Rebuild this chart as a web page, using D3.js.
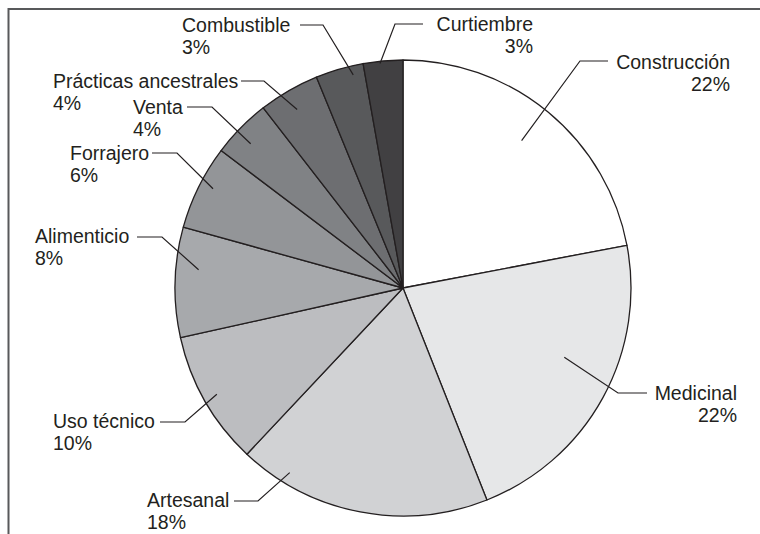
<!DOCTYPE html>
<html>
<head>
<meta charset="utf-8">
<script src="https://cdn.jsdelivr.net/npm/d3@7"></script>
<style>
  body { margin: 0; background: #fff; }
  svg { display: block; }
  text { font-family: "Liberation Sans", Arial, sans-serif; font-size: 19.5px; fill: #231f20; }
</style>
</head>
<body>
<svg id="chart" width="760" height="534"></svg>
<script>
// slices, clockwise from 12 o'clock
const categories = ["Construcción", "Medicinal", "Artesanal", "Uso técnico", "Alimenticio",
                    "Forrajero", "Venta", "Prácticas ancestrales", "Combustible", "Curtiembre"]
const shares = [22, 22, 18, 9.5, 7.8, 6, 4.2, 4.3, 3.4, 2.8]
const greys = ["#ffffff", "#e6e7e8", "#d1d2d4", "#bcbdc0", "#a7a9ac",
               "#939598", "#808285", "#6d6e71", "#58595b", "#414042"]

// label layout: t = where across the slice the leader starts, k = fraction of radius,
// elbow = bend of the leader, hx = end of the horizontal stub, tx/ty = text anchor
const leaders = [
  { t: .49, k: .83, elbow: [580, 61],  hx: 608, tx: 730, ty: 69,  anchor: "end" },
  { t: .43, k: .77, elbow: [618, 393], hx: 647, tx: 737, ty: 400, anchor: "end" },
  { t: .82, k: .95, elbow: [258, 501], hx: 234, tx: 147, ty: 507, anchor: "start" },
  { t: .50, k: .94, elbow: [185, 422], hx: 160, tx: 53,  ty: 428, anchor: "start" },
  { t: .63, k: .90, elbow: [162, 237], hx: 137, tx: 35,  ty: 243, anchor: "start" },
  { t: .56, k: .94, elbow: [177, 153], hx: 152, tx: 70,  ty: 160, anchor: "start" },
  { t: .42, k: .92, elbow: [212, 107], hx: 187, tx: 133, ty: 114, anchor: "start" },
  { t: .46, k: .91, elbow: [264, 81],  hx: 241, tx: 53,  ty: 88,  anchor: "start" },
  { t: .75, k: .96, elbow: [323, 25],  hx: 300, tx: 182, ty: 32,  anchor: "start" },
  { t: .42, k: .99, elbow: [395, 24],  hx: 423, tx: 533, ty: 31,  anchor: "end" }
]

const svg = d3.select("#chart")

const cx = 403,
      cy = 288,
      radius = 228

// frame (top and left edges only)
svg.append("path")
    .attr("d", "M8.5,534V9H760")
    .attr("fill", "none")
    .attr("stroke", "#58595b")
    .attr("stroke-width", 2)

const pie = d3.pie().sort(null).value(d => d.value)
const arc = d3.arc().innerRadius(0).outerRadius(radius)

const data = categories.map((c, i) => ({ name: c, value: shares[i], color: greys[i], lay: leaders[i] }))
const arcs = pie(data)

const g = svg.append("g").attr("transform", `translate(${cx},${cy})`)

g.selectAll("path.slice")
  .data(arcs)
  .enter().append("path")
    .attr("class", "slice")
    .attr("d", arc)
    .attr("fill", d => d.data.color)
    .attr("stroke", "#231f20")
    .attr("stroke-width", 1.3)
    .attr("stroke-linejoin", "round")

function polar(a, r) {
  return [cx + r * Math.sin(a), cy - r * Math.cos(a)]
}

const labels = svg.append("g")

arcs.forEach(d => {
  const L = d.data.lay
  const a = d.startAngle + L.t * (d.endAngle - d.startAngle)
  const p = polar(a, L.k * radius)

  labels.append("path")
      .attr("d", d3.line()([p, L.elbow, [L.hx, L.elbow[1]]]))
      .attr("fill", "none")
      .attr("stroke", "#231f20")
      .attr("stroke-width", 1.2)

  const t = labels.append("text")
      .attr("x", L.tx)
      .attr("y", L.ty)
      .attr("text-anchor", L.anchor)

  t.append("tspan").text(d.data.name)
  t.append("tspan")
      .attr("x", L.tx)
      .attr("dy", 22)
      .text(Math.round(d.data.value) + "%")
})
</script>
</body>
</html>
